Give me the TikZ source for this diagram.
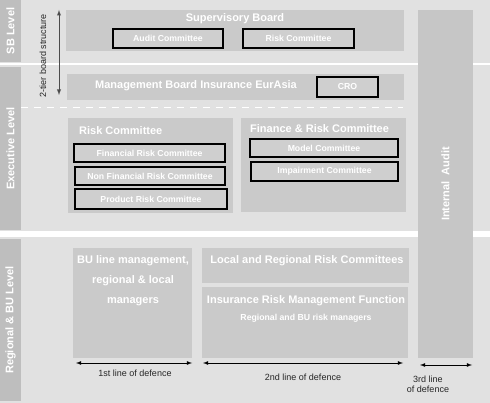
\documentclass[tikz,border=0pt]{standalone}
\usepackage{fontspec}
\setmainfont{Liberation Sans}
\usepgflibrary{arrows}
\usetikzlibrary{calc}

\definecolor{bggray}{RGB}{225,225,225}
\definecolor{boxgray}{RGB}{202,202,202}
\definecolor{colgray}{RGB}{190,190,190}
\definecolor{auditgray}{RGB}{198,198,198}
\definecolor{subgray}{RGB}{207,207,207}

\tikzset{
  box/.style={fill=boxgray, inner sep=0pt},
  levelcol/.style={fill=colgray, inner sep=0pt, minimum width=21pt},
  subbox/.style={draw=black, line width=1.2pt, fill=subgray, inner sep=0pt, text=white, font=\fontsize{8.7}{10}\selectfont\bfseries},
  title/.style={text=white, font=\fontsize{11}{13}\selectfont\bfseries, inner sep=0pt},
  levellabel/.style={rotate=90, text=white, font=\fontsize{11}{13}\selectfont\bfseries},
  linelabel/.style={text=black!85, font=\fontsize{9}{11}\selectfont, inner sep=0pt, align=center},
  separator/.style={white, line width=#1},
}

\begin{document}
\begin{tikzpicture}[x=1pt, y=-1pt]
\useasboundingbox (0,0) rectangle (490,403);
\fill[bggray] (0,0) rectangle (490,403);

\node[levelcol, minimum height=62pt] (sbcol) at (10.5,31) {};
\node[levelcol, minimum height=163pt] (execcol) at (10.5,148.5) {};
\node[levelcol, minimum height=162pt] (regcol) at (10.5,320) {};
\node[levellabel] at (sbcol) {SB Level};
\node[levellabel] at (execcol) {Executive Level};
\node[levellabel] at (regcol) {Regional \& BU Level};

\coordinate (sepa) at (0,64);
\coordinate (sepb) at (418,64);
\coordinate (sepc) at (473,64);
\coordinate (sepd) at (490,64);
\coordinate (sepe) at (0,234.5);
\coordinate (sepf) at (418,234.5);
\coordinate (sepg) at (473,234.5);
\coordinate (seph) at (490,234.5);
\draw[separator=2pt] (sepa) -- (sepb);
\draw[separator=2pt] (sepc) -- (sepd);
\draw[separator=6pt] (sepe) -- (sepf);
\draw[separator=6pt] (sepg) -- (seph);
\coordinate (dasha) at (21,107.5);
\coordinate (dashb) at (403,107.5);
\draw[separator=1.8pt, dash pattern=on 7pt off 6pt] (dasha) -- (dashb);

\node[fill=auditgray, inner sep=0pt, minimum width=55pt, minimum height=348pt] (audit) at (445.5,184) {};
\node[levellabel] at (audit) {Internal\ \ Audit};

\node[box, minimum width=338pt, minimum height=41pt] (sb) at (235,30.5) {};
\node[title] at (235,19) {Supervisory Board};
\node[subbox, minimum width=110pt, minimum height=19pt] (auditcom) at (168,38.5) {Audit Committee};
\node[subbox, minimum width=111pt, minimum height=19pt] (sbrisk) at (298.5,38.5) {Risk Committee};

\node[box, minimum width=337pt, minimum height=26pt] (mb) at (235.5,87) {};
\node[title] at (196,86) {Management Board Insurance EurAsia};
\node[subbox, minimum width=61pt, minimum height=20pt] (cro) at (347.5,87) {CRO};

\coordinate (tiera) at (59,10);
\coordinate (tierb) at (59,95);
\draw[latex-latex, black!70, line width=0.9pt] (tiera) -- (tierb);
\node[linelabel, rotate=90] at (43,56) {2-tier board structure};

\node[box, minimum width=165pt, minimum height=95pt] (rc) at (150.5,165.5) {};
\node[title, anchor=west] at (79,131) {Risk Committee};
\node[subbox, minimum width=151pt, minimum height=18pt] (frc1) at (149.5,153) {Financial Risk Committee};
\node[subbox, minimum width=150pt, minimum height=18pt] (nfrc) at (150,176) {Non Financial Risk Committee};
\node[subbox, minimum width=152pt, minimum height=20pt] (prc) at (151,199) {Product Risk Committee};

\node[box, minimum width=165pt, minimum height=94pt] (frc) at (323.5,165) {};
\node[title, anchor=west] at (250,129) {Finance \& Risk Committee};
\node[subbox, minimum width=148pt, minimum height=18pt] (mc) at (324,148) {Model Committee};
\node[subbox, minimum width=147pt, minimum height=19pt] (ic) at (324.5,171.5) {Impairment Committee};

\node[box, minimum width=119pt, minimum height=110pt] (bu) at (132.5,303) {};
\node[title, align=center, font=\fontsize{11}{20}\selectfont\bfseries, anchor=north] at (133,255) {BU line management,\\regional \& local\\managers};

\node[box, minimum width=207pt, minimum height=35pt] (lrrc) at (305.5,265.5) {};
\node[title] at (307,261) {Local and Regional Risk Committees};

\node[box, minimum width=206pt, minimum height=71pt] (irmf) at (305,322.5) {};
\node[title] at (306,301) {Insurance Risk Management Function};
\node[title, font=\fontsize{8.7}{10}\selectfont\bfseries] at (306,318) {Regional and BU risk managers};

\coordinate (firsta) at (76,363);
\coordinate (firstb) at (192,363);
\coordinate (seconda) at (203,363);
\coordinate (secondb) at (403,363);
\coordinate (thirda) at (420,365);
\coordinate (thirdb) at (472,365);
\draw[latex-latex, line width=0.8pt] (firsta) -- (firstb);
\draw[latex-latex, line width=0.8pt] (seconda) -- (secondb);
\draw[latex-latex, line width=0.8pt] (thirda) -- (thirdb);
\node[linelabel] at (135,373) {1st line of defence};
\node[linelabel] at (303,377) {2nd line of defence};
\node[linelabel, font=\fontsize{9}{10}\selectfont] at (428,384) {3rd line\\of defence};
\end{tikzpicture}
\end{document}
